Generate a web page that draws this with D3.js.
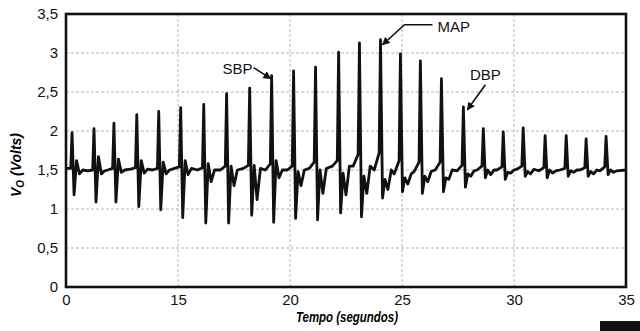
<!DOCTYPE html>
<html>
<head>
<meta charset="utf-8">
<script src="https://cdn.jsdelivr.net/npm/d3@7"></script>
<style>
  body { margin: 0; background: #fff; }
  svg { display: block; font-family: "Liberation Sans", Arial, sans-serif; }
</style>
</head>
<body>
<svg id="chart" width="640" height="331"></svg>
<script>
// ticks
const xTicks = [10, 15, 20, 25, 30, 35]
const xTickLabels = ['0', '15', '20', '25', '30', '35']
const yTicks = [0, 0.5, 1, 1.5, 2, 2.5, 3, 3.5]

// one entry per heartbeat pulse (seconds / volts)
const beatTimes = [10.27, 11.25, 12.14, 13.16, 14.14, 15.12, 16.15, 17.17, 18.20, 19.18, 20.16, 21.14, 22.17,
  23.10, 24.04, 24.93, 25.82, 26.76, 27.74, 28.63, 29.52, 30.41, 31.39, 32.33, 33.22, 34.11]
const peakValues = [1.98, 2.03, 2.10, 2.21, 2.25, 2.30, 2.34, 2.48, 2.55, 2.71, 2.77, 2.82, 3.01,
  3.13, 3.17, 2.99, 2.90, 2.67, 2.31, 2.03, 1.99, 2.04, 1.94, 1.94, 1.90, 1.93]
const troughValues = [1.18, 1.09, 1.09, 1.03, 0.99, 0.89, 0.82, 0.82, 0.92, 0.83, 0.88, 0.86, 0.95,
  0.90, 1.14, 1.22, 1.20, 1.22, 1.28, 1.40, 1.38, 1.42, 1.40, 1.42, 1.42, 1.44]
const preValues = [1.52, 1.50, 1.52, 1.53, 1.52, 1.54, 1.53, 1.55, 1.56, 1.58, 1.55, 1.60, 1.62,
  1.70, 1.72, 1.62, 1.60, 1.60, 1.56, 1.55, 1.54, 1.55, 1.53, 1.52, 1.53, 1.54]
const reboundValues = [1.62, 1.67, 1.64, 1.62, 1.60, 1.62, 1.58, 1.55, 1.56, 1.62, 1.48, 1.50, 1.46,
  1.42, 1.38, 1.40, 1.42, 1.40, 1.45, 1.50, 1.47, 1.48, 1.50, 1.49, 1.48, 1.50]
const dipValues = [1.45, 1.45, 1.47, 1.46, 1.45, 1.44, 1.35, 1.30, 1.12, 1.40, 1.30, 1.20, 1.18,
  1.20, 1.25, 1.32, 1.35, 1.38, 1.42, 1.44, 1.46, 1.45, 1.46, 1.47, 1.45, 1.47]
const gapValues = [1.50, 1.49, 1.50, 1.51, 1.50, 1.52, 1.50, 1.50, 1.52, 1.50, 1.50, 1.52, 1.55,
  1.55, 1.50, 1.45, 1.48, 1.50, 1.49, 1.50, 1.50, 1.51, 1.49, 1.50, 1.50, 1.49]

const notes = [
  {label: 'SBP', beat: 9},
  {label: 'MAP', beat: 14},
  {label: 'DBP', beat: 18}
]

const svg = d3.select('#chart')
const pl = 66, pr = 626, pt = 14, pb = 287

const x = d3.scaleLinear().domain([10, 35]).range([pl, pr])
const y = d3.scaleLinear().domain([0, 3.5]).range([pb, pt])

// grid
svg.append('g')
  .selectAll('line')
  .data(yTicks.slice(1, -1))
  .enter()
  .append('line')
  .attr('x1', pl).attr('x2', pr)
  .attr('y1', d => y(d)).attr('y2', d => y(d))
  .attr('stroke', '#b5b5b5').attr('stroke-dasharray', '3,2')
svg.append('g')
  .selectAll('line')
  .data(xTicks.slice(1, -1))
  .enter()
  .append('line')
  .attr('y1', pt).attr('y2', pb)
  .attr('x1', d => x(d)).attr('x2', d => x(d))
  .attr('stroke', '#b5b5b5').attr('stroke-dasharray', '3,2')

// trace
const pts = [[10, 1.52]]
beatTimes.forEach((t, i) => {
  pts.push([t - 0.28, gapValues[i]])
  pts.push([t - 0.06, preValues[i]])
  pts.push([t, peakValues[i]])
  pts.push([t + 0.09, troughValues[i]])
  pts.push([t + 0.2, reboundValues[i]])
  pts.push([t + 0.33, dipValues[i]])
  pts.push([t + 0.48, gapValues[i]])
})
pts.push([35, 1.5])

svg.append('clipPath').attr('id', 'clip')
  .append('rect').attr('x', pl).attr('y', pt).attr('width', pr - pl).attr('height', pb - pt)

const line = d3.line().x(d => x(d[0])).y(d => y(d[1]))
svg.append('path')
  .datum(pts.filter(d => d[0] >= 10))
  .attr('clip-path', 'url(#clip)')
  .attr('d', line)
  .attr('fill', 'none')
  .attr('stroke', '#111')
  .attr('stroke-width', 2.8)
  .attr('stroke-linejoin', 'round')

// frame
svg.append('rect')
  .attr('x', pl).attr('y', pt).attr('width', pr - pl).attr('height', pb - pt)
  .attr('fill', 'none').attr('stroke', '#111').attr('stroke-width', 2.6)

// axes
const yAxis = svg.append('g')
  .attr('transform', `translate(${pl},0)`)
  .call(d3.axisLeft(y).tickValues(yTicks).tickSize(0).tickPadding(8)
    .tickFormat(d => String(d).replace('.', ',')))
yAxis.select('.domain').remove()
const xAxis = svg.append('g')
  .attr('transform', `translate(0,${pb})`)
  .call(d3.axisBottom(x).tickValues(xTicks).tickSize(0).tickPadding(7)
    .tickFormat((d, i) => xTickLabels[i]))
xAxis.select('.domain').remove()
svg.selectAll('.tick text').attr('font-size', 15).attr('fill', '#111')
  .attr('font-family', '"Liberation Sans", Arial, sans-serif')

svg.append('text')
  .attr('x', 347).attr('y', 322)
  .attr('text-anchor', 'middle')
  .attr('font-size', 14).attr('font-weight', 'bold').attr('font-style', 'italic')
  .attr('textLength', 102).attr('lengthAdjust', 'spacingAndGlyphs')
  .text('Tempo (segundos)')

const yt = svg.append('text')
  .attr('transform', 'translate(21,165) rotate(-90)')
  .attr('text-anchor', 'middle')
  .attr('font-size', 14).attr('font-weight', 'bold').attr('font-style', 'italic')
yt.append('tspan').text('V')
yt.append('tspan').attr('font-size', 10).attr('dy', 3).text('O')
yt.append('tspan').attr('dy', -3).text(' (Volts)')

// annotations
svg.append('defs').append('marker')
  .attr('id', 'head').attr('viewBox', '0 0 10 10')
  .attr('refX', 9).attr('refY', 5)
  .attr('markerWidth', 5).attr('markerHeight', 5)
  .attr('markerUnits', 'strokeWidth')
  .attr('orient', 'auto')
  .append('path').attr('d', 'M0,0L10,5L0,10Z').attr('fill', '#111')

const offsets = {
  SBP: {path: [[-18, -8], [-1, 3]], text: [-19, -2], anchor: 'end'},
  MAP: {path: [[52, -15], [24, -15], [2, 5]], text: [57, -8], anchor: 'start'},
  DBP: {path: [[22, -22], [4, 3]], text: [22, -27], anchor: 'middle'}
}
notes.forEach(n => {
  const px = x(beatTimes[n.beat]), py = y(peakValues[n.beat])
  const o = offsets[n.label]
  svg.append('path')
    .attr('d', d3.line()(o.path.map(p => [px + p[0], py + p[1]])))
    .attr('fill', 'none').attr('stroke', '#111').attr('stroke-width', 1.6)
    .attr('marker-end', 'url(#head)')
  svg.append('text')
    .attr('x', px + o.text[0]).attr('y', py + o.text[1])
    .attr('text-anchor', o.anchor)
    .attr('font-size', 15).attr('fill', '#111')
    .text(n.label)
})

// corner tab from the page
svg.append('rect').attr('x', 600).attr('y', 321).attr('width', 40).attr('height', 10).attr('fill', '#111')
</script>
</body>
</html>
